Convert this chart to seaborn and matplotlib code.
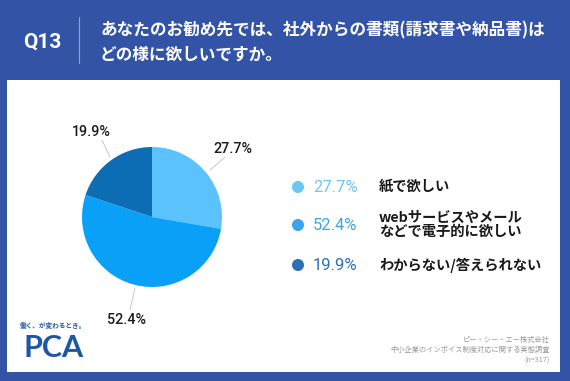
import matplotlib
matplotlib.use("Agg")
import matplotlib.pyplot as plt
import seaborn as sns
import pandas as pd
from matplotlib.patches import Rectangle

# data
categories = ["紙で欲しい", "webサービスやメール\nなどで電子的に欲しい", "わからない/答えられない"]
values = [27.7, 52.4, 19.9]
pie_colors = ["#5BC2FE", "#0AA0F8", "#0D6DB4"]
legend_colors = ["#6CC6F6", "#3DA3EA", "#2C70B6"]

sns.set_theme(style="white")
plt.rcParams['font.family'] = ['Noto Sans CJK JP', 'DejaVu Sans']

W, H = 570, 381
fig = plt.figure(figsize=(W / 100, H / 100), dpi=100)
fig.patch.set_facecolor("#3354A6")

def px(x, y):
    return x / W, 1 - y / H

# white panel
fig.patches.append(Rectangle(px(7, 372), 553 / W, 292 / H, transform=fig.transFigure,
                             facecolor="white", edgecolor="none", zorder=-5))

# header
fig.text(*px(42, 42), "Q13", color="white", fontsize=15, fontweight="bold",
         ha="center", va="center", family=["Roboto", "DejaVu Sans"])
fig.add_artist(plt.Line2D([79 / W, 79 / W], [1 - 17 / H, 1 - 63 / H],
                          color="#8FA3D3", lw=0.8, transform=fig.transFigure))
fig.text(*px(100, 30), "あなたのお勧め先では、社外からの書類(請求書や納品書)は",
         color="white", fontsize=12, fontweight="bold", va="center")
fig.text(*px(100, 55), "どの様に欲しいですか。",
         color="white", fontsize=12, fontweight="bold", va="center")

# pie
cx, cy, r = 152, 217, 70
ax = fig.add_axes([(cx - r) / W, (H - cy - r) / H, 2 * r / W, 2 * r / H], zorder=2)
ax.pie(values, colors=pie_colors, startangle=90, counterclock=False,
       wedgeprops=dict(linewidth=0))
ax.set_aspect("equal")
ax.set_xlim(-1, 1)
ax.set_ylim(-1, 1)
ax.axis("off")

# pie labels with leader lines
lbl = [("27.7%", (233, 149), [(210, 170), (225, 157)]),
       ("52.4%", (127, 320), [(135, 288), (130, 310)]),
       ("19.9%", (91, 132), [(110, 157), (102, 140)])]
for (txt, pos, line), v in zip(lbl, values):
    (x0, y0), (x1, y1) = line
    fig.add_artist(plt.Line2D([x0 / W, x1 / W], [1 - y0 / H, 1 - y1 / H],
                              color="#C8C8C8", lw=0.7, transform=fig.transFigure))
    fig.text(*px(*pos), txt, fontsize=10.3, color="#1A1A1A", ha="center", va="center",
             fontweight="medium", family=["Roboto", "DejaVu Sans"])

# legend
lax = fig.add_axes([0, 0, 1, 1], zorder=3)
lax.set_xlim(0, W)
lax.set_ylim(H, 0)
lax.axis("off")
leg = pd.DataFrame({"x": [298] * 3, "y": [187, 225, 265], "cat": categories})
sns.scatterplot(data=leg, x="x", y="y", hue="cat", palette=legend_colors,
                s=75, linewidth=0, legend=False, ax=lax)
for y, v, c, cat in zip(leg["y"], values, legend_colors, categories):
    lax.text(313, y, f"{v:.1f}%", color=c, fontsize=12, va="center",
             family=["Roboto", "DejaVu Sans"])
    lax.text(379, y, cat, color="#1A1A1A", fontsize=10.3, fontweight="bold",
             va="center", linespacing=1.0)

# logo
lax.text(20, 325, "働く、が変わるとき。", color="#2558A8", fontsize=4.8,
         fontweight="bold", va="center")
lax.text(23, 348, "PCA", color="#1D57A8", fontsize=22, fontweight="bold",
         va="center", family=["Lato", "DejaVu Sans"])

# footnote
for y, t in [(340, "ピー・シー・エー株式会社"),
             (350, "中小企業のインボイス制度対応に関する実態調査"),
             (361, "(n=317)")]:
    lax.text(550, y, t, color="#9A9A9A", fontsize=5.2, ha="right", va="center")

fig.savefig("out.png", dpi=100, facecolor=fig.get_facecolor())
